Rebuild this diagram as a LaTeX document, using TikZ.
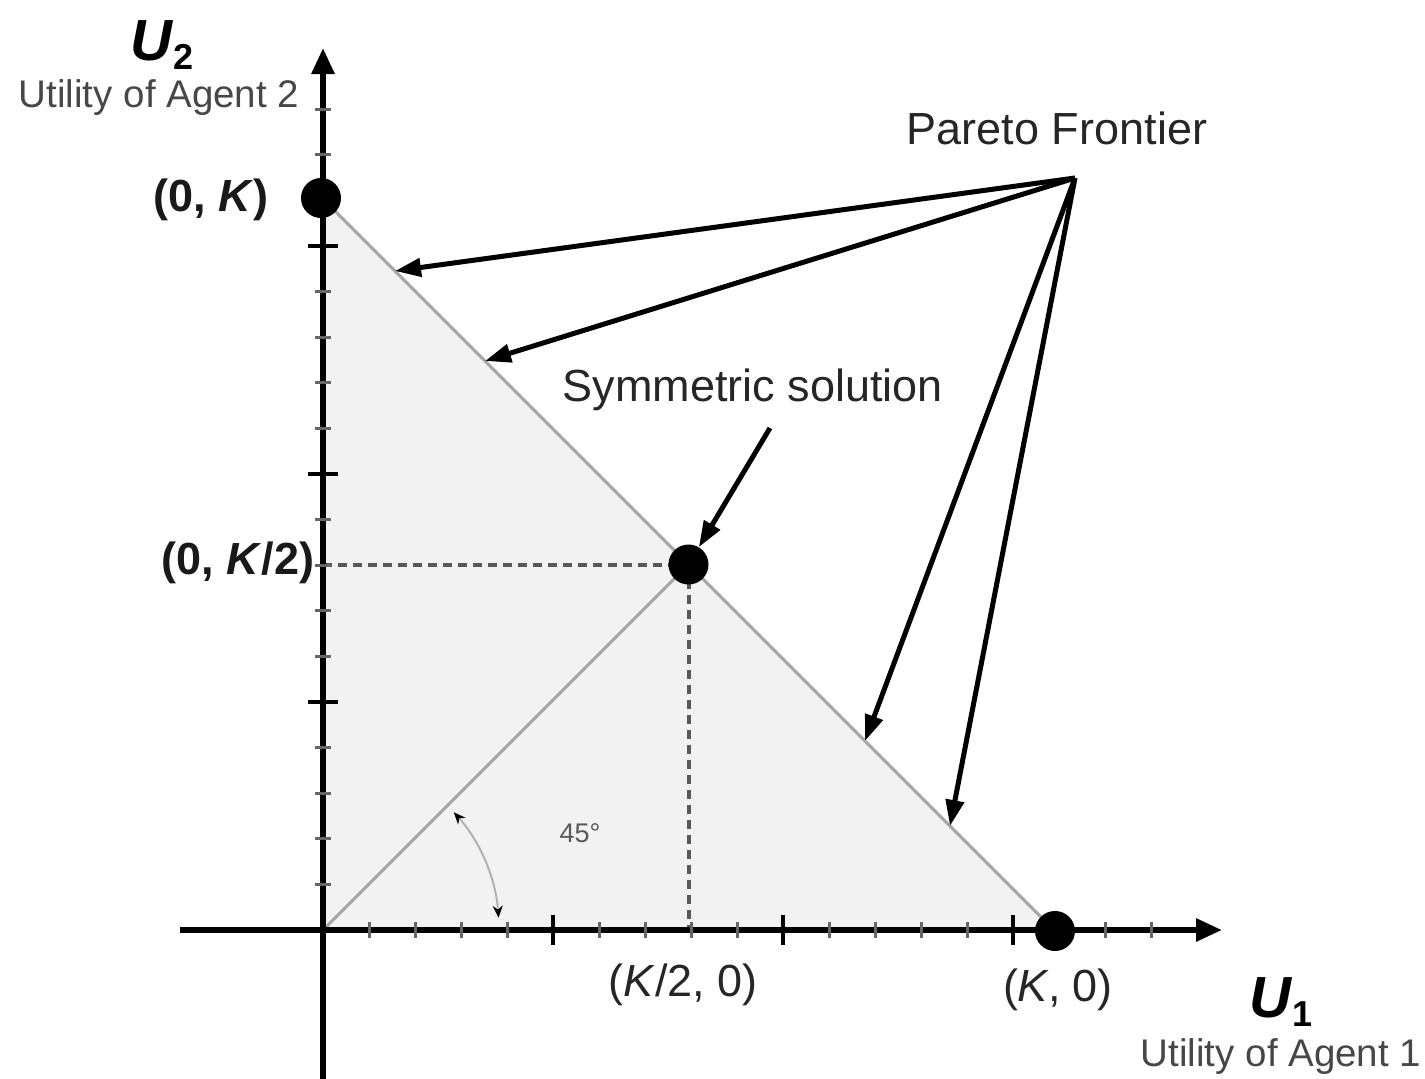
\documentclass[tikz,border=0pt]{standalone}
\usepackage{fontspec}
\setmainfont{Liberation Sans}
\usetikzlibrary{arrows.meta}
\tikzset{
  lbl/.style={font=\fontsize{45}{50}\selectfont, text=black!85, inner sep=0pt},
  blbl/.style={font=\bfseries\fontsize{45}{50}\selectfont, text=black!90, inner sep=0pt},
  sublbl/.style={font=\fontsize{38.5}{42}\selectfont, text=black!72, inner sep=0pt},
  axlbl/.style={font=\bfseries\itshape\fontsize{58}{60}\selectfont, text=black, inner sep=0pt},
  dotnode/.style={circle, fill=black, minimum size=40pt, inner sep=0pt},
  axisln/.style={line width=6pt, draw=black, -{Triangle[length=26pt,width=22pt]}},
  grayln/.style={line width=3pt, draw=black!35},
  dashln/.style={line width=4pt, draw=black!65, dash pattern=on 9pt off 6pt},
  parr/.style={line width=5pt, draw=black, -{Triangle[length=26pt,width=18pt]}},
  minortick/.style={line width=3pt, draw=black!60},
  majortick/.style={line width=4.5pt, draw=black},
  angarc/.style={line width=2pt, draw=black!30, {Stealth[black,length=12pt,width=10pt]}-{Stealth[black,length=12pt,width=10pt]}}
}
\begin{document}
\begin{tikzpicture}[x=1pt,y=-1pt]
\useasboundingbox[fill=white] (0,0) rectangle (1425,1079);
% key points
\coordinate (o) at (323,930);
\coordinate (ky) at (323,199);
\coordinate (kx) at (1054,930);
\coordinate (m) at (688.5,564.5);
% feasible region
\fill[black!5] (ky) -- (kx) -- (o) -- cycle;
\draw[grayln] (ky) -- (kx);
\draw[grayln] (o) -- (m);
% dashed projections
\draw[dashln] (o |- m) -- (m);
\draw[dashln] (m) -- (m |- o);
% axes
\coordinate (xs) at (180,930);
\coordinate (xe) at (1222,930);
\coordinate (ys) at (323,1079);
\coordinate (ye) at (323,48);
\draw[axisln] (xs) -- (xe);
\draw[axisln] (ys) -- (ye);
% ticks
\foreach \i in {1,2,3,4,6,7,8,9,11,12,13,14,16,17,18} {
  \draw[minortick] (323+46*\i,922) -- (323+46*\i,938);
  \draw[minortick] (315,930-45.6*\i) -- (331,930-45.6*\i);
}
\foreach \i in {5,10,15} {
  \draw[majortick] (323+46*\i,915) -- (323+46*\i,945);
  \draw[majortick] (308,930-45.6*\i) -- (338,930-45.6*\i);
}
% angle
\draw[angarc] ([shift={(42:176pt)}]o) arc[start angle=42, end angle=4, radius=176pt];
\node[font=\fontsize{27}{30}\selectfont, text=black!65, inner sep=0pt] (ang) at (580,833) {45°};
% dots
\node[dotnode] (pK) at (321,198) {};
\node[dotnode] (pS) at (m) {};
\node[dotnode] (pK0) at (1055,931) {};
% labels
\node[axlbl] (u2) at (162,45) {U\kern1pt\raisebox{-9pt}{\fontsize{36}{38}\selectfont\upshape 2}};
\node[sublbl] (u2t) at (159,98) {Utility of Agent 2};
\node[axlbl] (u1) at (1281,1002) {U\kern1pt\raisebox{-9pt}{\fontsize{36}{38}\selectfont\upshape 1}};
\node[sublbl] (u1t) at (1281,1057) {Utility of Agent 1};
\node[blbl] (l0k) at (211,200) {(0, \textit{K})};
\node[blbl] (l0k2) at (238,563) {(0, \textit{K}/2)};
\node[lbl] (lk20) at (683,985) {(\textit{K}/2, 0)};
\node[lbl] (lk0) at (1058,990) {(\textit{K}, 0)};
\node[lbl] (pareto) at (1057,128) {Pareto Frontier};
\node[lbl] (sym) at (753,390) {Symmetric solution};
% arrows
\coordinate (src) at (1075,178);
\coordinate (f1) at (395,271);
\coordinate (f2) at (485,361);
\coordinate (f3) at (865,741);
\coordinate (f4) at (950,826);
\draw[parr] (src) -- (f1);
\draw[parr] (src) -- (f2);
\draw[parr] (src) -- (f3);
\draw[parr] (src) -- (f4);
\coordinate (s0) at (770,428);
\draw[parr] (s0) -- (pS);
\end{tikzpicture}
\end{document}
